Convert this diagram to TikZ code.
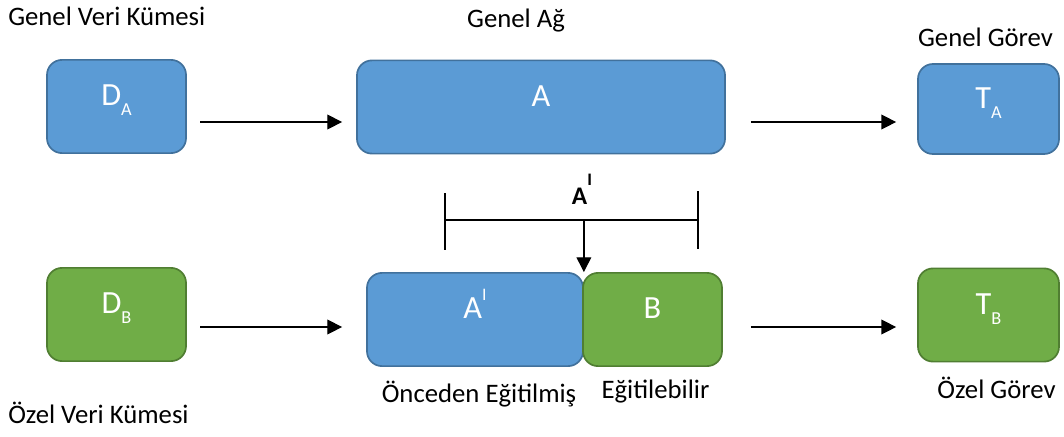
\documentclass[tikz,border=0pt]{standalone}
\usepackage{fontspec}
\setmainfont{Carlito}
\usetikzlibrary{arrows.meta}

\definecolor{bluefill}{HTML}{5B9BD5}
\definecolor{bluedraw}{HTML}{41719C}
\definecolor{greenfill}{HTML}{70AD47}
\definecolor{greendraw}{HTML}{507E32}

\newcommand{\loidx}[1]{\raisebox{-7pt}{\fontsize{13}{15}\selectfont #1}}
\newcommand{\hiidx}[1]{\raisebox{13pt}{\fontsize{12.5}{14}\selectfont #1}}

\begin{document}
\begin{tikzpicture}[x=0.025cm, y=-0.025cm]
		\def\toprow{122}
		\def\botrow{327}

		\tikzset{
			basic/.style={rectangle, rounded corners=3.75mm, line width=1.2pt, text=white, inner sep=0pt,
				font=\fontsize{23}{27}\selectfont, text height=11pt, text depth=12pt, minimum height=2.33cm},
			bluebox/.style={basic, draw=bluedraw, fill=bluefill},
			greenbox/.style={basic, draw=greendraw, fill=greenfill},
			caption/.style={inner sep=0pt, anchor=base, font=\fontsize{19}{23}\selectfont},
			sarrow/.style={-{Triangle[length=10.5pt,width=10.5pt]}, line width=0.9pt},
			bracket/.style={line width=0.9pt}
		}

		\useasboundingbox (0,0) rectangle (1064,436);

		% upper row

		\node[bluebox, minimum width=3.475cm] (DA) at (116.5,106.5) {D\loidx{A}};
		\node[bluebox, minimum width=9.2cm]   (A)  at (541,107)     {A};
		\node[bluebox, minimum width=3.525cm, minimum height=2.25cm] (TA) at (988.5,109) {T\loidx{A}};

		% lower row

		\node[greenbox, minimum width=3.475cm] (DB) at (116.5,314.5) {D\loidx{B}};
		\node[bluebox, minimum width=5.4cm]    (AI) at (475,319.5)   {A\hiidx{I}};
		\node[greenbox, minimum width=3.475cm] (B)  at (652.5,319.5) {B};
		\node[greenbox, minimum width=3.525cm] (TB) at (988.5,315)   {T\loidx{B}};

		% captions

		\node[caption, anchor=base west] (capDA) at (8,25)      {Genel Veri Kümesi};
		\node[caption]                   (capA)  at (516,27)    {Genel Ağ};
		\node[caption]                   (capTA) at (985.5,46)  {Genel Görev};
		\node[caption]                   (capAI) at (479,402)   {Önceden Eğitilmiş};
		\node[caption]                   (capB)  at (655.5,398) {Eğitilebilir};
		\node[caption]                   (capTB) at (996.5,398) {Özel Görev};
		\node[caption, anchor=base west] (capDB) at (8,423)     {Özel Veri Kümesi};

		% arrows

		\draw[sarrow, shorten <=3.3mm, shorten >=3.5mm]  (DA.east |- 0,\toprow) -- (A.west |- 0,\toprow);
		\draw[sarrow, shorten <=6.25mm, shorten >=5.25mm] (A.east |- 0,\toprow) -- (TA.west |- 0,\toprow);
		\draw[sarrow, shorten <=3.3mm, shorten >=6mm]    (DB.east |- 0,\botrow) -- (AI.west |- 0,\botrow);
		\draw[sarrow, shorten <=7mm, shorten >=5.25mm]   (B.east |- 0,\botrow) -- (TB.west |- 0,\botrow);

		% transferred part of A

		\node[caption, font=\fontsize{18}{21}\bfseries\selectfont] (Alabel) at (582,204) {A\hiidx{I}};
		\coordinate (brL) at (445,220);
		\coordinate (brR) at (698,220);
		\coordinate (brM) at (AI.east |- brL);
		\draw[bracket] (brL) -- (brR);
		\draw[bracket] (brL) ++(0,-27) -- ++(0,57);
		\draw[bracket] (brR) ++(0,-29) -- ++(0,58);
		\draw[sarrow] (brM) -- (AI.north east);
\end{tikzpicture}
\end{document}
